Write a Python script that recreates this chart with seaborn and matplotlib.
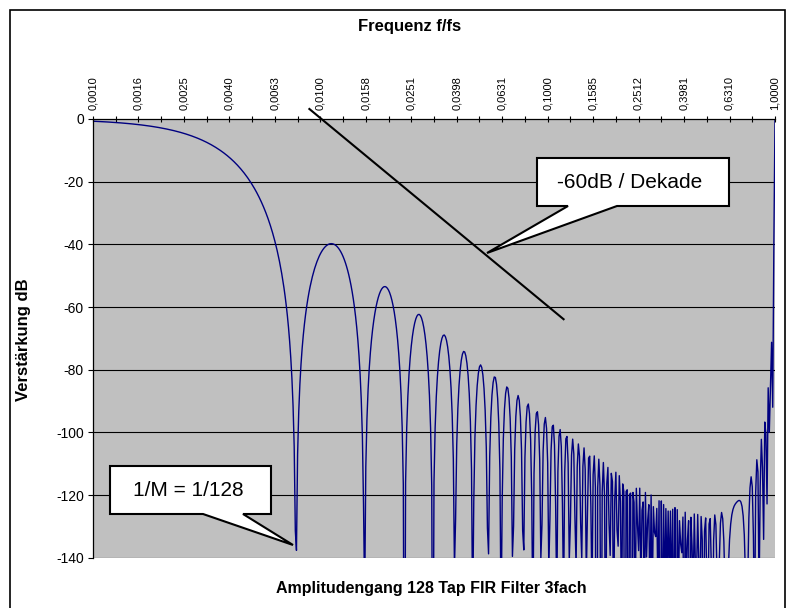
import numpy as np
import pandas as pd
import matplotlib
matplotlib.use("Agg")
import matplotlib.pyplot as plt
from matplotlib.patches import Polygon, Rectangle
from matplotlib.lines import Line2D
from matplotlib.ticker import FixedLocator, FixedFormatter, NullFormatter
import seaborn as sns

# ---------------- data ----------------
# 128-tap moving-average FIR filter, cascaded three times ("3fach")
taps = [1.0 / 128] * 128
cascade_stages = 3
freq_exp_start = -3.0          # f/fs = 0.001
freq_exp_stop = 0.0            # f/fs = 1.0
points_per_decade = 200

x_tick_values = [0.0010, 0.0015849, 0.0025119, 0.0039811, 0.0063096, 0.0100,
                 0.0158489, 0.0251189, 0.0398107, 0.0630957, 0.1000,
                 0.1584893, 0.2511886, 0.3981072, 0.6309573, 1.0000]
x_tick_labels = ["0,0010", "0,0016", "0,0025", "0,0040", "0,0063", "0,0100",
                 "0,0158", "0,0251", "0,0398", "0,0631", "0,1000",
                 "0,1585", "0,2512", "0,3981", "0,6310", "1,0000"]
y_tick_values = [0, -20, -40, -60, -80, -100, -120, -140]
y_tick_labels = ["0", "-20", "-40", "-60", "-80", "-100", "-120", "-140"]

title_top = "Frequenz f/fs"
title_bottom = "Amplitudengang 128 Tap FIR Filter 3fach"
y_title = "Verstärkung dB"
callout_slope = "-60dB / Dekade"
callout_null = "1/M = 1/128"
slope_db_per_decade = -60.0
slope_start_f = 0.00895
slope_start_db = 3.2
slope_end_f = 0.1175

# ---------------- frequency response ----------------
n_pts = int(round((freq_exp_stop - freq_exp_start) * points_per_decade)) + 1
freq = np.logspace(freq_exp_start, freq_exp_stop, n_pts)
n = np.arange(len(taps))
H = np.abs(np.exp(-2j * np.pi * np.outer(freq, n)) @ np.asarray(taps))
mag = H ** cascade_stages
db = 20 * np.log10(np.maximum(mag, 1e-20))
db = np.maximum(db, -400)
df = pd.DataFrame({"f": freq, "dB": db})

# ---------------- figure ----------------
W, Hpx = 792, 608
fig = plt.figure(figsize=(W / 100, Hpx / 100), dpi=100)
plt.rcParams["font.family"] = ["Liberation Sans", "DejaVu Sans"]

def fx(x):
    return x / W

def fy(y):
    return 1 - y / Hpx

left, right, top, bottom = 93, 775, 119, 557.7
ax = fig.add_axes([fx(left), fy(bottom), fx(right) - fx(left), fy(top) - fy(bottom)])
ax.set_facecolor("#C0C0C0")

sns.lineplot(data=df, x="f", y="dB", ax=ax, color="#000080", linewidth=1.0,
             estimator=None, sort=False, legend=False)
ax.set_xscale("log")
ax.set_xlim(x_tick_values[0], x_tick_values[-1])
ax.set_ylim(-140, 0)

# gridlines
for yv in y_tick_values[1:]:
    ax.axhline(yv, color="black", linewidth=0.8, zorder=1)

# x axis on top
ax.xaxis.tick_top()
ax.xaxis.set_major_locator(FixedLocator(x_tick_values))
ax.xaxis.set_major_formatter(FixedFormatter(x_tick_labels))
minor = [np.sqrt(a * b) for a, b in zip(x_tick_values[:-1], x_tick_values[1:])]
ax.xaxis.set_minor_locator(FixedLocator(minor))
ax.xaxis.set_minor_formatter(NullFormatter())
ax.tick_params(axis="x", which="both", direction="inout", length=4.3, width=0.8,
               color="black", top=True, bottom=False, labeltop=True, labelbottom=False)
ax.tick_params(axis="x", which="major", labelsize=8, rotation=90, pad=4.5)

ax.yaxis.set_major_locator(FixedLocator(y_tick_values))
ax.yaxis.set_major_formatter(FixedFormatter(y_tick_labels))
ax.tick_params(axis="y", direction="out", length=3.6, width=0.8, color="black",
               labelsize=10, pad=3)
ax.set_xlabel("")
ax.set_ylabel("")

for s in ["bottom", "right"]:
    ax.spines[s].set_visible(False)
for s in ["top", "left"]:
    ax.spines[s].set_color("black")
    ax.spines[s].set_linewidth(0.9)

# titles
fig.text(fx(410), fy(26), title_top, ha="center", va="center",
         fontsize=12, fontweight="bold")
fig.text(fx(431), fy(589), title_bottom, ha="center", va="center",
         fontsize=11.5, fontweight="bold")
fig.text(fx(24), fy(340), y_title, ha="center", va="center", rotation=90,
         fontsize=12, fontweight="bold")

# -60 dB/decade line
decades = np.log10(slope_end_f / slope_start_f)
ax.add_line(Line2D([slope_start_f, slope_end_f],
                   [slope_start_db, slope_start_db + slope_db_per_decade * decades],
                   color="black", linewidth=1.5, clip_on=False, zorder=4))

# callouts
def callout(l, r, t, b, p1, p2, tip, text, tx, ty):
    pts = [(l, t), (r, t), (r, b), (p2, b), tip, (p1, b), (l, b)]
    poly = Polygon([(fx(x), fy(y)) for x, y in pts], closed=True,
                   transform=fig.transFigure, facecolor="white",
                   edgecolor="black", linewidth=1.5, zorder=10, clip_on=False)
    fig.add_artist(poly)
    fig.text(fx(tx), fy(ty), text, ha="center", va="center", fontsize=15,
             zorder=11)

callout(537, 729, 158, 206, 568, 617, (487, 253), callout_slope, 630, 182)
callout(110, 271, 466, 514, 203, 243, (293, 545), callout_null, 188, 490)

# chart border
fig.add_artist(Rectangle((fx(9.5), fy(640)), fx(785) - fx(9.5), fy(9.5) - fy(640),
                         transform=fig.transFigure, fill=False,
                         edgecolor="black", linewidth=1.2, clip_on=False))

fig.savefig("out.png", dpi=100)
